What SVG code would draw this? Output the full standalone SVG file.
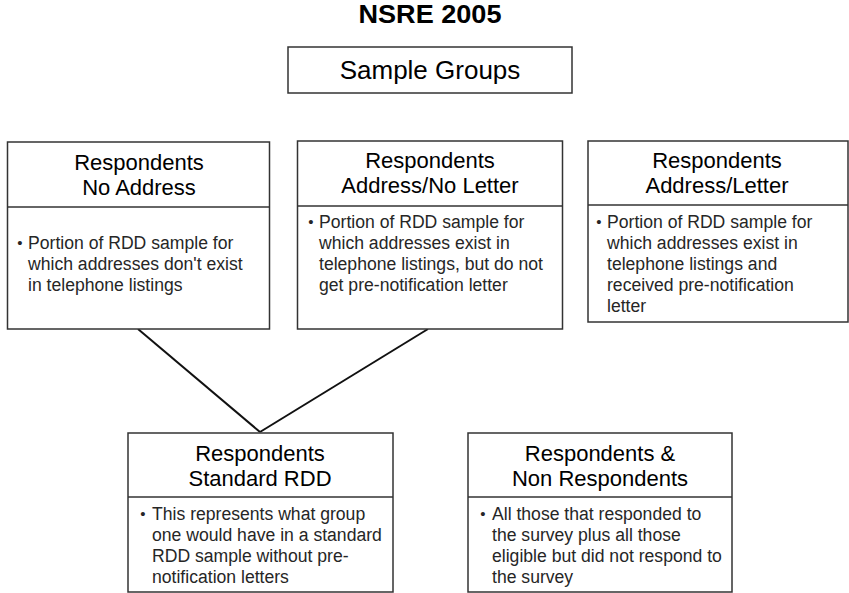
<svg xmlns="http://www.w3.org/2000/svg" width="849" height="593" viewBox="0 0 849 593">
<style>
.box{fill:#fff;stroke:#333;stroke-width:1.5}
.div{stroke:#333;stroke-width:1.5}
.conn{stroke:#111;stroke-width:2;fill:none}
.t{font-family:"Liberation Sans",Arial,sans-serif;fill:#000}
.h{font-size:22px;text-anchor:middle}
.b{font-size:17.6px;fill:#262626}
.u{font-size:15px;fill:#262626;text-anchor:middle}
</style>
<rect width="849" height="593" fill="#fff"/>
<text class="t" x="430" y="23" font-size="25" font-weight="bold" text-anchor="middle" textLength="143" lengthAdjust="spacingAndGlyphs">NSRE 2005</text>
<g id="sample-groups">
<rect class="box" x="288" y="47" width="284" height="46"/>
<text class="t" x="430" y="79" font-size="26" text-anchor="middle">Sample Groups</text>
</g>
<g id="connectors">
<line class="conn" x1="138" y1="329" x2="260" y2="432"/>
<line class="conn" x1="428" y1="329" x2="260" y2="432"/>
</g>
<g id="no-address">
<rect class="box" x="7.5" y="142" width="262" height="187"/>
<line class="div" x1="7.5" y1="207" x2="269.5" y2="207"/>
<text class="t h" x="139" y="170">Respondents</text>
<text class="t h" x="139" y="195">No Address</text>
<text class="t u" x="20" y="248">•</text>
<text class="t b" x="28" y="249">Portion of RDD sample for</text>
<text class="t b" x="28" y="270">which addresses don't exist</text>
<text class="t b" x="28" y="291">in telephone listings</text>
</g>
<g id="address-no-letter">
<rect class="box" x="297.5" y="141" width="265" height="188"/>
<line class="div" x1="297.5" y1="206" x2="562.5" y2="206"/>
<text class="t h" x="430" y="168">Respondents</text>
<text class="t h" x="430" y="193">Address/No Letter</text>
<text class="t u" x="311" y="227">•</text>
<text class="t b" x="319" y="228">Portion of RDD sample for</text>
<text class="t b" x="319" y="249">which addresses exist in</text>
<text class="t b" x="319" y="270">telephone listings, but do not</text>
<text class="t b" x="319" y="291">get pre-notification letter</text>
</g>
<g id="address-letter">
<rect class="box" x="588" y="141" width="260" height="181"/>
<line class="div" x1="588" y1="205" x2="848" y2="205"/>
<text class="t h" x="717" y="168">Respondents</text>
<text class="t h" x="717" y="193">Address/Letter</text>
<text class="t u" x="599" y="227">•</text>
<text class="t b" x="607" y="228">Portion of RDD sample for</text>
<text class="t b" x="607" y="249">which addresses exist in</text>
<text class="t b" x="607" y="270">telephone listings and</text>
<text class="t b" x="607" y="291">received pre-notification</text>
<text class="t b" x="607" y="312">letter</text>
</g>
<g id="standard-rdd">
<rect class="box" x="128" y="433" width="265" height="159"/>
<line class="div" x1="128" y1="497" x2="393" y2="497"/>
<text class="t h" x="260" y="461">Respondents</text>
<text class="t h" x="260" y="486">Standard RDD</text>
<text class="t u" x="143" y="519">•</text>
<text class="t b" x="152" y="520">This represents what group</text>
<text class="t b" x="152" y="541">one would have in a standard</text>
<text class="t b" x="152" y="562">RDD sample without pre-</text>
<text class="t b" x="152" y="583">notification letters</text>
</g>
<g id="respondents-non-respondents">
<rect class="box" x="468" y="433" width="264" height="159"/>
<line class="div" x1="468" y1="497" x2="732" y2="497"/>
<text class="t h" x="600" y="461">Respondents &amp;</text>
<text class="t h" x="600" y="486">Non Respondents</text>
<text class="t u" x="483" y="519">•</text>
<text class="t b" x="492" y="520">All those that responded to</text>
<text class="t b" x="492" y="541">the survey plus all those</text>
<text class="t b" x="492" y="562">eligible but did not respond to</text>
<text class="t b" x="492" y="583">the survey</text>
</g>
</svg>
